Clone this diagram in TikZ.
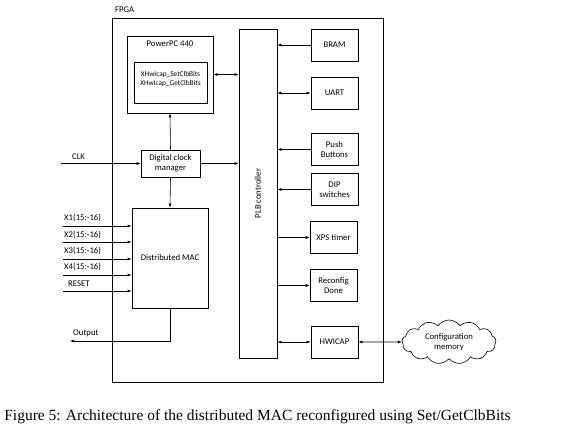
\documentclass[tikz,border=0pt]{standalone}
\usepackage{fontspec}
\setmainfont{Liberation Serif}
\newfontfamily\diagfont{Carlito}
\usetikzlibrary{positioning, arrows.meta, shapes.symbols, calc}

\begin{document}
\begin{tikzpicture}[x=1pt, y=-1pt,
  blk/.style={draw, line width=0.8pt, align=center, inner sep=1pt,
              font=\diagfont\fontsize{8.7}{10}\selectfont},
  periph/.style={blk, minimum width=47pt, minimum height=32pt},
  txt/.style={font=\diagfont\fontsize{8.7}{10}\selectfont, inner sep=0pt},
  small/.style={font=\diagfont\fontsize{7.3}{9}\selectfont, align=center, inner sep=0pt},
  arr/.style={-{Latex[length=4pt, width=3pt]}, line width=0.6pt},
  darr/.style={{Latex[length=4pt, width=3pt]}-{Latex[length=4pt, width=3pt]}, line width=0.6pt},
  lbl/.style={txt, anchor=west},
]
\useasboundingbox (0,0) rectangle (575,434);

% ---------- FPGA frame ----------
\node[draw, line width=0.8pt, minimum width=271pt, minimum height=364pt, inner sep=0pt]
  (fpga) at (247.5,200) {};
\node[lbl] (fpgalbl) at (115,10) {FPGA};

% ---------- PowerPC and its drivers ----------
\node[blk, minimum width=86pt, minimum height=77pt] (ppc) at (170,74.5) {};
\node[txt] (ppctitle) at (170,44) {PowerPC 440};
\node[blk, minimum width=73pt, minimum height=41pt] (drv) at (170.5,82.5) {};
\node[small] (drvtxt) at (170.5,79.5) {XHwIcap\_SetClbBits\\XHwIcap\_GetClbBits};

% ---------- Clock manager and MAC ----------
\node[blk, minimum width=59pt, minimum height=27pt] (dcm) at (170.5,163.5) {Digital clock\\manager};
\node[blk, minimum width=76pt, minimum height=100pt] (mac) at (170,258) {Distributed MAC};

% ---------- PLB bus ----------
\node[blk, minimum width=38pt, minimum height=329pt] (plb) at (258,193.5) {};
\node[txt, rotate=90] (plblbl) at (plb.center) {PLB controller};

% ---------- Peripherals ----------
\node[periph] (bram) at (334.5,45) {BRAM};
\node[periph] (uart) at (334.5,93) {UART};
\node[periph] (push) at (334.5,149.5) {Push\\Buttons};
\node[periph] (dip) at (334.5,189.5) {DIP\\switches};
\node[periph] (xps) at (333.5,237.5) {XPS timer};
\node[periph] (reconf) at (333.5,285.5) {Reconfig\\Done};
\node[periph] (hwicap) at (334.5,342) {HWICAP};
\node[draw, line width=0.6pt, cloud, cloud puffs=13, cloud puff arc=110, aspect=2.1,
      minimum width=94pt, minimum height=44pt, align=center, inner sep=0pt,
      font=\diagfont\fontsize{8.7}{10}\selectfont] (cfg) at (449,342) {Configuration\\memory};

% ---------- External pins ----------
\coordinate (clk) at (61,163.5);
\coordinate (x1) at (63,226);
\coordinate (x2) at (63,242);
\coordinate (x3) at (63,259);
\coordinate (x4) at (63,275);
\coordinate (rst) at (63,291);
\coordinate (out) at (70,341);

\node[lbl] (clklbl) at (72,157) {CLK};
\node[lbl] (x1lbl) at (64,218) {X1(15:-16)};
\node[lbl] (x2lbl) at (64,234.5) {X2(15:-16)};
\node[lbl] (x3lbl) at (64,251) {X3(15:-16)};
\node[lbl] (x4lbl) at (64,267) {X4(15:-16)};
\node[lbl] (rstlbl) at (68,284) {RESET};
\node[lbl] (outlbl) at (73,333) {Output};

% ---------- Connections ----------
\draw[darr] (ppc.east) -- (plb.west |- ppc.east);
\draw[arr] (clk) -- (dcm.west);
\draw[arr] (dcm.north) -- (ppc.south);
\draw[arr] (dcm.east) -- (plb.west |- dcm.east);
\draw[arr] (dcm.south) -- (mac.north);
\draw[arr] (x1) -- (mac.west |- x1);
\draw[arr] (x2) -- (mac.west |- x2);
\draw[arr] (x3) -- (mac.west |- x3);
\draw[arr] (x4) -- (mac.west |- x4);
\draw[arr] (rst) -- (mac.west |- rst);
\draw[arr] (mac.south) |- (out);

\draw[arr] (bram.west) -- (plb.east |- bram.west);
\draw[darr] (uart.west) -- (plb.east |- uart.west);
\draw[arr] (push.west) -- (plb.east |- push.west);
\draw[arr] (dip.west) -- (plb.east |- dip.west);
\draw[arr] (plb.east |- xps.west) -- (xps.west);
\draw[arr] (plb.east |- reconf.west) -- (reconf.west);
\draw[darr] (hwicap.west) -- (plb.east |- hwicap.west);
\draw[darr] (hwicap.east) -- (cfg.west);

% ---------- Caption ----------
\node[font=\fontsize{15.5}{18}\selectfont, inner sep=0pt] (caption) at (257.5,417)
  {Figure 5: Architecture of the distributed MAC reconfigured using Set/GetClbBits};
\end{tikzpicture}
\end{document}
